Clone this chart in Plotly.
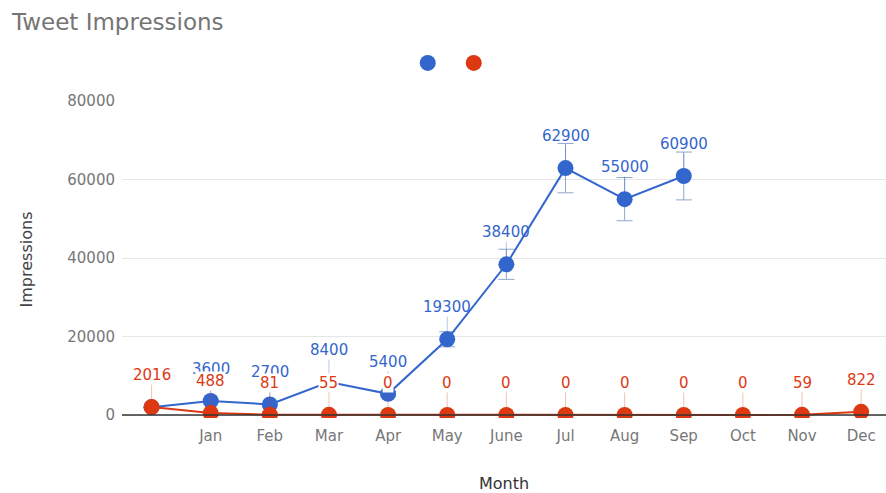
import plotly.graph_objects as go

# Monthly tweet impressions (first slot is the unlabeled starting point)
months = ["", "Jan", "Feb", "Mar", "Apr", "May", "June", "Jul", "Aug", "Sep", "Oct", "Nov", "Dec"]
impressions_a = [2000, 3600, 2700, 8400, 5400, 19300, 38400, 62900, 55000, 60900, None, None, None]
labels_a = [None, "3600", "2700", "8400", "5400", "19300", "38400", "62900", "55000", "60900", None, None, None]
impressions_b = [2016, 488, 81, 55, 0, 0, 0, 0, 0, 0, 0, 59, 822]
labels_b = ["2016", "488", "81", "55", "0", "0", "0", "0", "0", "0", "0", "59", "822"]
y_ticks = [0, 20000, 40000, 60000, 80000]

BLUE = "#3366cc"
RED = "#dc3912"
FONT = "DejaVu Sans"
x_idx = list(range(len(months)))

fig = go.Figure()

fig.add_trace(go.Scatter(
    x=x_idx, y=impressions_a, mode="lines+markers",
    line=dict(color=BLUE, width=2),
    marker=dict(color=BLUE, size=16),
    error_y=dict(type="percent", value=10, color="#8fa6cf", thickness=1, width=8),
    cliponaxis=True, showlegend=False, hoverinfo="x+y",
))
fig.add_trace(go.Scatter(
    x=x_idx, y=impressions_b, mode="lines+markers",
    line=dict(color=RED, width=2),
    marker=dict(color=RED, size=16),
    cliponaxis=True, showlegend=False, hoverinfo="x+y",
))

# Legend entries: plain dots without text
for col in (BLUE, RED):
    fig.add_trace(go.Scatter(x=[None], y=[None], mode="markers", name="",
                             marker=dict(color=col, size=16), showlegend=True))

# Value labels on stems above each point
annotations = []
for vals, labs, col, stem, bg in (
    (impressions_a, labels_a, BLUE, "rgba(51,102,204,0.35)", "rgba(0,0,0,0)"),
    (impressions_b, labels_b, RED, "rgba(220,57,18,0.3)", "white"),
):
    for i, (v, t) in enumerate(zip(vals, labs)):
        if t is None or v is None:
            continue
        annotations.append(dict(
            x=i, y=v, xref="x", yref="y", text=t, showarrow=True,
            arrowhead=0, arrowwidth=1, arrowcolor=stem, ax=0, ay=-32,
            standoff=7, font=dict(family=FONT, size=15, color=col),
            bgcolor=bg, borderpad=0,
        ))

fig.update_layout(
    width=886, height=493,
    margin=dict(l=122, r=0, t=101, b=75),
    paper_bgcolor="white", plot_bgcolor="white",
    font=dict(family=FONT, color="#777777"),
    title=dict(text="Tweet Impressions", x=12 / 886, xanchor="left",
               y=1 - 22 / 493, yanchor="middle",
               font=dict(family=FONT, size=23, color="#757575")),
    legend=dict(orientation="h", x=0.374, xanchor="left", y=1.12, yanchor="middle",
                entrywidth=1, entrywidthmode="pixels", itemwidth=30,
                font=dict(size=12), bgcolor="rgba(0,0,0,0)"),
    annotations=annotations,
    shapes=[dict(type="line", xref="paper", yref="y", x0=0, x1=1, y0=0, y1=0,
                 line=dict(color="#333333", width=1.5), layer="above")],
    xaxis=dict(
        range=[-0.5, 12.42], tickmode="array", tickvals=x_idx, ticktext=months,
        showgrid=False, zeroline=False, showline=False, ticks="",
        tickfont=dict(family=FONT, size=15, color="#777777"), ticklabelstandoff=7,
        title=dict(text="Month", standoff=34,
                   font=dict(family=FONT, size=16, color="#333333")),
    ),
    yaxis=dict(
        range=[-760, 80000], tickmode="array", tickvals=y_ticks,
        ticktext=[str(v) for v in y_ticks],
        showgrid=True, gridcolor="#e6e6e6", gridwidth=1, zeroline=False,
        showline=False, ticks="",
        tickfont=dict(family=FONT, size=15, color="#777777"), ticklabelstandoff=6,
        title=dict(text="Impressions", standoff=30,
                   font=dict(family=FONT, size=16, color="#444444")),
    ),
)

fig.write_html("out.html")
